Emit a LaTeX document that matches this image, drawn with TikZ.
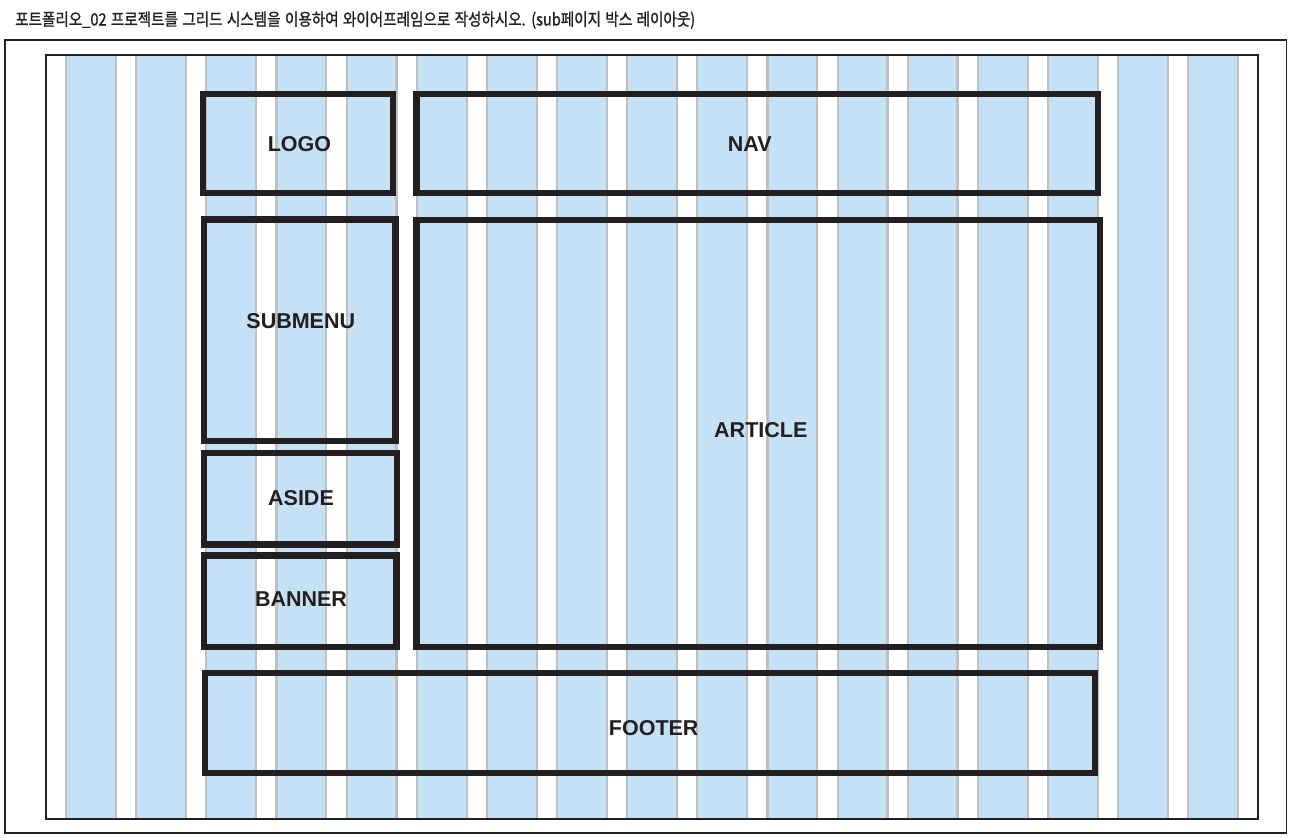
\documentclass[tikz,border=0pt]{standalone}
\usepackage{fontspec}
\setmainfont{Liberation Sans}
\newfontfamily\krfont[FakeBold=1.2]{Noto Sans CJK KR}
\definecolor{colblue}{HTML}{C5E1F5}
\definecolor{colgray}{HTML}{BDBFC3}
\definecolor{ink}{HTML}{231F20}
\tikzset{
  gridcol/.style={fill=colblue, draw=none},
  gridedge/.style={draw=colgray, line width=2.2pt},
  wirebox/.style={draw=ink, line width=6.5pt, line join=miter},
  boxlabel/.style={inner sep=0pt, font=\fontsize{21.5}{24}\selectfont\bfseries, text=ink},
  frameline/.style={draw=ink, line width=2pt}
}
\begin{document}
\begin{tikzpicture}[x=1pt,y=-1pt]
\useasboundingbox (0,0) rectangle (1294,838);
\fill[white] (0,0) rectangle (1294,838);
% title
\node[anchor=base west, inner sep=0pt, text=ink, font=\krfont\fontsize{17.5}{20}\selectfont] (title) at (15,25.5) {\resizebox{680pt}{14pt}{\spaceskip=0.3em포트폴리오\_02 프로젝트를 그리드 시스템을 이용하여 와이어프레임으로 작성하시오. (sub페이지 박스 레이아웃)}};
% outer frame
\draw[frameline, line width=1.6pt] (5,40) rectangle (1286.5,833);
% grid columns
\foreach \i in {0,...,16}{
  \pgfmathsetmacro{\xl}{65+70.14*\i}
  \pgfmathsetmacro{\xr}{\xl+52}
  \fill[gridcol] (\xl,55) rectangle (\xr,819);
  \draw[gridedge] (\xl+1.1,55) -- (\xl+1.1,819);
  \draw[gridedge] (\xr-1.1,55) -- (\xr-1.1,819);
}
% inner frame
\draw[frameline, line width=2.4pt] (46,55) rectangle (1258,819);
% boxes
\draw[wirebox] (203,94) rectangle (393,193);
\draw[wirebox] (416.5,94) rectangle (1098,193);
\draw[wirebox] (204,219.5) rectangle (395.5,441);
\draw[wirebox] (416.7,220) rectangle (1100,647);
\draw[wirebox] (204,453) rectangle (397,544.7);
\draw[wirebox] (204,555.3) rectangle (396.5,647);
\draw[wirebox] (205,673) rectangle (1095,773);
% labels
\node[boxlabel] (logo) at (299.5,144) {LOGO};
\node[boxlabel] (nav) at (749.7,144) {NAV};
\node[boxlabel] (submenu) at (300.8,321.3) {SUBMENU};
\node[boxlabel] (article) at (760.8,429.8) {ARTICLE};
\node[boxlabel] (aside) at (301,498) {ASIDE};
\node[boxlabel] (banner) at (301,599) {BANNER};
\node[boxlabel] (footer) at (653.7,728.3) {FOOTER};
\end{tikzpicture}
\end{document}
